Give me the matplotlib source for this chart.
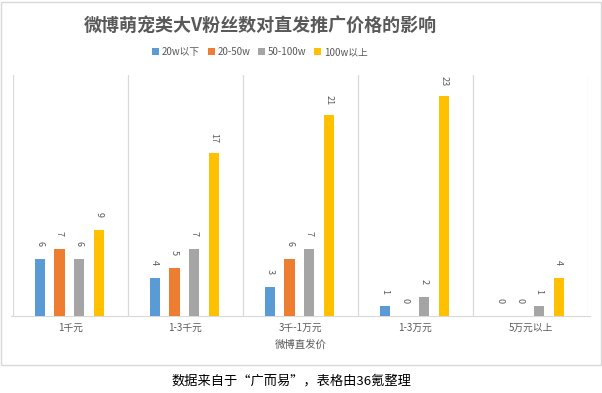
import matplotlib
matplotlib.use("Agg")
import matplotlib.pyplot as plt
import numpy as np
from matplotlib.patches import Rectangle

plt.rcParams["font.family"] = ["Noto Sans CJK SC", "DejaVu Sans"]

categories = ["1千元", "1-3千元", "3千-1万元", "1-3万元", "5万元以上"]
series_names = ["20w以下", "20-50w", "50-100w", "100w以上"]
values_20w = [6, 4, 3, 1, 0]
values_20_50w = [7, 5, 6, 0, 0]
values_50_100w = [6, 7, 7, 2, 1]
values_100w = [9, 17, 21, 23, 4]

COLORS = ["#5B9BD5", "#ED7D31", "#A5A5A5", "#FFC000"]
GRID = "#D9D9D9"
TEXT = "#595959"

fig = plt.figure(figsize=(6.02, 3.93), dpi=100)
ax = fig.add_axes([13 / 602, 1 - 316 / 393, 575 / 602, 241 / 393])

x = np.arange(len(categories))
spacing = 0.171
width = 0.092
all_series = [values_20w, values_20_50w, values_50_100w, values_100w]
for i, (name, vals, color) in enumerate(zip(series_names, all_series, COLORS)):
    pos = x + (i - 1.5) * spacing - 0.01
    ax.bar(pos, vals, width=width, color=color, label=name, zorder=3)
    for px, v in zip(pos, vals):
        ax.annotate(str(v), (px, v), xytext=(0, 11), textcoords="offset points",
                    ha="center", va="center", rotation=-90, fontsize=6.5,
                    color=TEXT)

ax.set_xlim(-0.5, len(categories) - 0.5)
ax.set_ylim(0, 25.2)
ax.set_yticks([])
ax.set_xticks(x)
ax.set_xticklabels(categories, fontsize=7, color=TEXT)
ax.tick_params(axis="x", length=0, pad=5)
for b in np.arange(-0.5, len(categories), 1.0):
    ax.axvline(b, color=GRID, linewidth=0.9, zorder=1)
for side in ["top", "right", "left"]:
    ax.spines[side].set_visible(False)
ax.spines["bottom"].set_color(GRID)
ax.spines["bottom"].set_bounds(-0.52, len(categories) - 0.48)
ax.set_xlabel("微博直发价", fontsize=7.5, color=TEXT, labelpad=5)

fig.text(260 / 602, 1 - 25 / 393, "微博萌宠类大V粉丝数对直发推广价格的影响",
         ha="center", va="center", fontsize=13, fontweight="bold", color=TEXT)
fig.legend(loc="center", bbox_to_anchor=(260 / 602, 1 - 52 / 393), ncol=4,
           frameon=False, fontsize=7, handlelength=0.7, handleheight=0.7,
           handletextpad=0.3, columnspacing=0.8, labelcolor=TEXT)

fig.patches.append(Rectangle((0.5 / 602, 1 - 365 / 393), 600 / 602, 363 / 393,
                             transform=fig.transFigure, fill=False,
                             edgecolor=GRID, linewidth=1))
fig.text(291 / 602, 1 - 381 / 393, "数据来自于“广而易”，表格由36氪整理",
         ha="center", va="center", fontsize=9.5, color="black")

fig.savefig("out.png", dpi=100, facecolor="white")
